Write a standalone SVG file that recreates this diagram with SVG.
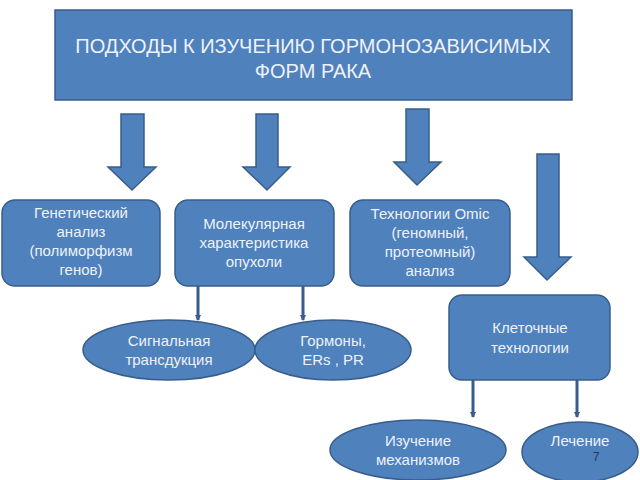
<svg xmlns="http://www.w3.org/2000/svg" width="640" height="480" viewBox="0 0 640 480">
<defs>
<style>
.shape{fill:#4f81bd;stroke:#385d8a;stroke-width:1.5}
.t{font-family:"Liberation Sans",Arial,sans-serif;fill:#eef2f8;text-anchor:middle;font-size:15px}
.title{font-size:20px}
.conn{stroke:#385d8a;stroke-width:3;fill:none}
</style>
<marker id="ah" viewBox="0 0 6 6" refX="5" refY="3" markerWidth="6" markerHeight="6" markerUnits="userSpaceOnUse" orient="auto">
<path d="M0,0 L6,3 L0,6 Z" fill="#385d8a"/>
</marker>
</defs>
<rect width="640" height="480" fill="#ffffff"/>
<g id="title">
<rect class="shape" x="55" y="10" width="517" height="90"/>
<text class="t title" x="313" y="53">ПОДХОДЫ К ИЗУЧЕНИЮ ГОРМОНОЗАВИСИМЫХ</text>
<text class="t title" x="313" y="78">ФОРМ РАКА</text>
</g>
<g id="block-arrows">
<path class="shape" d="M121,114 H144 V167 H156 L132,190 L108,167 H121 Z"/>
<path class="shape" d="M256,114 H278 V167 H290 L267,190 L243,167 H256 Z"/>
<path class="shape" d="M406,109 H429 V162 H441 L417,185 L394,162 H406 Z"/>
<path class="shape" d="M537,154 H559 V257 H571 L547,280 L524,257 H537 Z"/>
</g>
<g id="connectors">
<line class="conn" x1="198" y1="286" x2="198" y2="320" marker-end="url(#ah)"/>
<line class="conn" x1="303" y1="286" x2="303" y2="320" marker-end="url(#ah)"/>
<line class="conn" x1="473" y1="380" x2="473" y2="417" marker-end="url(#ah)"/>
<line class="conn" x1="577" y1="380" x2="577" y2="417" marker-end="url(#ah)"/>
</g>
<g id="genetic">
<rect class="shape" x="2" y="200" width="158" height="86" rx="13"/>
<text class="t" x="81" y="218">Генетический</text>
<text class="t" x="81" y="237">анализ</text>
<text class="t" x="81" y="256">(полиморфизм</text>
<text class="t" x="81" y="275">генов)</text>
</g>
<g id="molecular">
<rect class="shape" x="175" y="200" width="159" height="86" rx="13"/>
<text class="t" x="254" y="229">Молекулярная</text>
<text class="t" x="254" y="248">характеристика</text>
<text class="t" x="254" y="267">опухоли</text>
</g>
<g id="omic">
<rect class="shape" x="350" y="200" width="160" height="86" rx="13"/>
<text class="t" x="430" y="219">Технологии Omic</text>
<text class="t" x="430" y="238">(геномный,</text>
<text class="t" x="430" y="257">протеомный)</text>
<text class="t" x="430" y="276">анализ</text>
</g>
<g id="cell">
<rect class="shape" x="449" y="295" width="161" height="85" rx="13"/>
<text class="t" x="530" y="333">Клеточные</text>
<text class="t" x="530" y="353">технологии</text>
</g>
<g id="signal">
<ellipse class="shape" cx="169" cy="350" rx="86" ry="30"/>
<text class="t" x="169" y="346">Сигнальная</text>
<text class="t" x="169" y="365">трансдукция</text>
</g>
<g id="hormones">
<ellipse class="shape" cx="333" cy="350" rx="78" ry="30"/>
<text class="t" x="333" y="346">Гормоны,</text>
<text class="t" x="333" y="365">ERs , PR</text>
</g>
<g id="mechanisms">
<ellipse class="shape" cx="418" cy="450" rx="88" ry="30"/>
<text class="t" x="418" y="446">Изучение</text>
<text class="t" x="418" y="465">механизмов</text>
</g>
<g id="treatment">
<ellipse class="shape" cx="580" cy="452" rx="58" ry="30"/>
<text class="t" x="580" y="446">Лечение</text>
</g>
<text x="596" y="461" font-family="Liberation Sans, Arial, sans-serif" font-size="12" fill="#1f3864" text-anchor="middle">7</text>
</svg>
